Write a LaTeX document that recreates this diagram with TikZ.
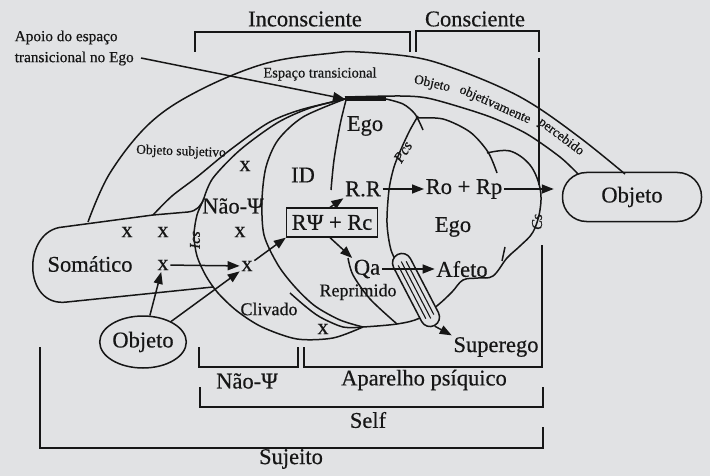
\documentclass[tikz,border=0pt]{standalone}
\usepackage{fontspec}
\setmainfont{Liberation Serif}[FakeBold=0.5]
\usetikzlibrary{arrows.meta,shapes.geometric}
\definecolor{bg}{RGB}{225,226,228}
\definecolor{ink}{RGB}{22,22,22}
\begin{document}
\begin{tikzpicture}[x=1pt,y=-1pt, line width=1.5pt, color=ink,
  big/.style={font=\fontsize{22.5}{25}\selectfont, inner sep=1pt, text=ink},
  mid/.style={font=\fontsize{18}{20}\selectfont, inner sep=1pt, text=ink},
  sml/.style={font=\fontsize{14}{16}\selectfont, inner sep=1pt, text=ink},
  sq/.style={font=\fontsize{15}{15}\selectfont\itshape, inner sep=0pt, text=ink},
  arr/.style={-{Triangle[length=12pt,width=9pt]}}]
\fill[bg] (0,0) rectangle (710,476);
\useasboundingbox (0,0) rectangle (710,476);

% top brackets
\draw (195,52) -- (195,32) -- (410,32) -- (410,52);
\draw (416,52) -- (416,31) -- (539,31) -- (539,52);
\node[big] (inc) at (305,19) {Inconsciente};
\node[big] (con) at (475,19) {Consciente};
\draw (539,58) -- (539,185);

% label Apoio
\node[sml, font=\fontsize{15.3}{21}\selectfont, align=left, anchor=west] (apoio) at (13,48) {Apoio do espaço\\transicional no Ego};
\coordinate (apoioEnd) at (141,58);
\coordinate (barL) at (345,99);
\coordinate (barR) at (386,99);

% outer band
\draw plot[smooth, tension=0.6] coordinates {(88,222) (110,173) (150,123) (200,90) (267,63) (333,53) (360,52) (413,57) (450,67) (500,87) (537,107) (583,140) (625,174)};
\draw plot[smooth] coordinates {(345,97) (400,96) (427,98) (460,107) (493,118) (527,134) (560,157) (578,174)};

% objeto subjetivo curve
\draw plot[smooth] coordinates {(153,215) (172,196) (197,177) (230,150) (268,123) (300,110) (345,99)};

% Somatico blob and upper Nao-Psi boundary
\draw (213,287) -- (67,302) .. controls (22,308) and (22,230) .. (63,227) -- (153,215) -- (188,212) .. controls (197,211) and (201,206) .. (204,198)
  -- plot[smooth] coordinates {(204,198) (213,178) (240,150) (277,123) (310,108) (345,99)};

% Nao-Psi outer boundary
\draw plot[smooth] coordinates {(203,201) (197,215) (194,235) (197,256) (206,276) (218,293) (237,311) (262,327) (297,339) (333,338) (363,327)};
% ID circle
\draw plot[smooth] coordinates {(345,99) (303,117) (278,140) (266,167) (262,200) (264,235) (278,265) (295,287) (315,306) (340,320) (363,327)};
% Clivado split
\draw plot[smooth] coordinates {(290,293) (305,306) (320,317) (343,327) (363,327)};
% Ego bottom and right lobe
\draw plot[smooth, tension=0.6] coordinates {(363,327) (397,324) (420,318) (438,305) (452,292) (463,280) (478,278) (493,276) (507,258) (520,246) (533,232) (540,210) (540,188) (530,165) (510,151) (487,153)};
\draw plot[smooth] coordinates {(416,118) (443,119) (470,132) (488,152) (497,173)};
\draw plot[smooth] coordinates {(386,99) (403,104) (415,114) (423,130)};
% PCS curve
\draw plot[smooth] coordinates {(418,116) (410,130) (402,147) (394,167) (389,190) (387,223) (391,250) (400,268)};
% Reprimido boundary
\draw plot[smooth] coordinates {(348,258) (353,275) (370,299) (397,324)};
% Ego / ID line
\draw plot[smooth] coordinates {(346,100) (340,125) (334,160) (331,190)};
\draw (505,247) -- (502,261);

% transitional bar
\draw[line width=4.5pt] (barL) -- (barR);
\draw[arr] (apoioEnd) -- (barL);

% band texts
\node[sml, font=\fontsize{14.5}{16}\selectfont] (esp) at (320,74) {Espaço transicional};
\node[sml, font=\fontsize{13.5}{15}\selectfont, rotate=-2] (objsub) at (181,152) {Objeto subjetivo};
\node[sml, font=\fontsize{13.5}{15}\selectfont, rotate=-13] (oo1) at (432,84) {Objeto};
\node[sml, font=\fontsize{13.5}{15}\selectfont, rotate=-24] (oo2) at (495,105) {objetivamente};
\node[sml, font=\fontsize{13.5}{15}\selectfont, rotate=-37] (oo3) at (561,137) {percebido};

% squiggles
\node[sq, rotate=90] (ics) at (195,240) {Ics};
\node[sq, rotate=58] (pcs) at (403,152) {Pcs};
\node[sq, rotate=90] (cs) at (537,222) {Cs};

% capsule
\node[draw, fill=bg, rounded corners=9.5pt, minimum width=80pt, minimum height=19pt, rotate=-62.6, inner sep=0pt] (caps) at (416,290) {};
\begin{scope}[shift={(416,290)}, rotate=-62.6, line width=1.1pt]
  \draw (-30,-4.5) -- (30,-4.5);
  \draw (-32,0) -- (32,0);
  \draw (-30,4.5) -- (30,4.5);
\end{scope}

% nodes
\node[big] (somatico) at (90,264) {Somático};
\node[big, draw, ellipse, minimum width=74pt, minimum height=52pt, inner sep=0pt] (objL) at (143,342) {Objeto};
\node[big, draw, rounded corners=24pt, minimum width=139pt, minimum height=49pt, inner sep=0pt] (objR) at (632,197) {Objeto};
\node[big] (x1) at (127,232) {x};
\node[big] (x2) at (163,232) {x};
\node[big] (x3) at (163,265) {x};
\node[big] (x5) at (240,232) {x};
\node[big] (x6) at (245,166) {x};
\node[big] (x4) at (247,266) {x};
\node[big] (x7) at (323,329) {x};
\node[big] (naopsi) at (233,206) {Não-Ψ};
\node[big] (id) at (303,175) {ID};
\node[big] (ego1) at (365,126) {Ego};
\node[big] (ego2) at (453,227) {Ego};
\node[big, draw, line width=1.3pt, minimum width=91pt, minimum height=29pt, inner sep=0pt] (box) at (332,222.5) {RΨ + Rc};
\node[big] (rr) at (363,189) {R.R};
\node[big] (rop) at (464,189) {Ro + Rp};
\node[big] (qa) at (367,269) {Qa};
\node[big] (afeto) at (462,269) {Afeto};
\node[mid] (repr) at (358,292) {Reprimido};
\node[mid] (cliv) at (269,309) {Clivado};
\node[big] (superego) at (496,347) {Superego};

% arrows
\draw[arr] (x3) -- (x4);
\draw[arr] (objL) -- (x3);
\draw[arr] (objL) -- (x4);
\draw[arr] (x4) -- (box.south west);
\draw[arr] ([xshift=-2pt]box.north) -- (rr.south west);
\draw[arr] ([xshift=-2pt]box.south) -- (qa.north west);
\draw[arr] (rr) -- (rop);
\draw[arr, shorten >=8pt] (rop.east) -- (rop.east -| objR.west);
\draw[arr] (qa) -- (afeto);
\draw[arr] (caps.east) -- (superego.north west);

% bottom brackets
\draw (199,347) -- (199,367) -- (298,367) -- (298,347);
\draw (304,347) -- (304,367) -- (542,367) -- (542,245);
\draw (200,387) -- (200,407) -- (543,407) -- (543,387);
\draw (40,347) -- (40,448) -- (543,448) -- (543,427);
\node[big] (naopsi2) at (247,381) {Não-Ψ};
\node[big] (apar) at (424,380) {Aparelho psíquico};
\node[big] (self) at (368,420) {Self};
\node[big] (suj) at (291,459) {Sujeito};
\end{tikzpicture}
\end{document}
